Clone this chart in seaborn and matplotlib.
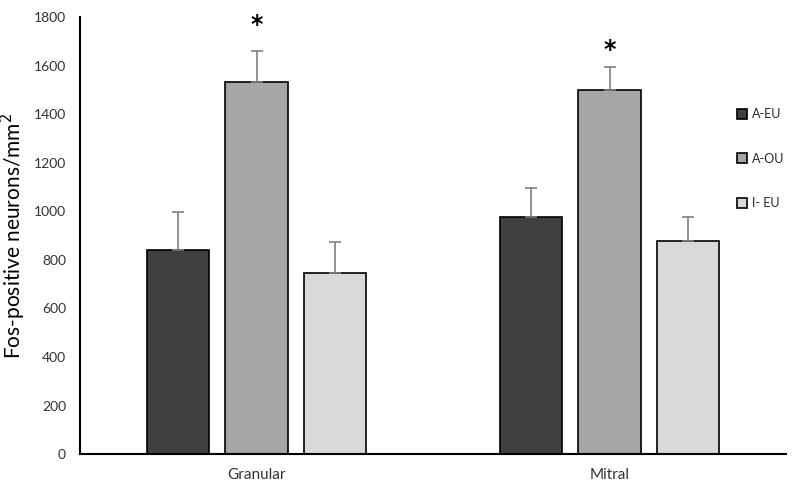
import seaborn as sns
import matplotlib.pyplot as plt
import pandas as pd
from matplotlib.patches import Patch

# values
regions = ["Granular", "Mitral"]
groups = ["A-EU", "A-OU", "I- EU"]
means_granular = [840, 1532, 746]
means_mitral = [976, 1499, 877]
sem_granular = [157, 128, 127]
sem_mitral = [120, 95, 99]
star_heights = [1765, 1665]  # where the * marks sit (A-OU bars)
colors = ["#404040", "#a6a6a6", "#d9d9d9"]

df = pd.DataFrame({
    "region": [r for r in regions for _ in groups],
    "group": groups * 2,
    "value": means_granular + means_mitral,
    "err": sem_granular + sem_mitral,
})

sns.set_style("white")
plt.rcParams['font.family'] = ['Lato', 'DejaVu Sans']

fig = plt.figure(figsize=(8, 4.98), dpi=100)
ax = fig.add_axes([0.1, 0.088, 0.8825, 0.878])

sns.barplot(data=df, x="region", y="value", hue="group", hue_order=groups,
            palette=colors, width=0.666, gap=0.2, edgecolor="black",
            linewidth=1.2, errorbar=None, legend=False, ax=ax)

# upward-only error bars and significance stars
for i, g in enumerate(groups):
    cont = ax.containers[i]
    for j, bar in enumerate(cont):
        x = bar.get_x() + bar.get_width() / 2
        row = df[(df.region == regions[j]) & (df.group == g)].iloc[0]
        ax.errorbar(x, row.value, yerr=[[0], [row.err]], fmt="none",
                    ecolor="#7f7f7f", elinewidth=1.2, capsize=4, capthick=1.2)
        if g == "A-OU":
            ax.text(x, star_heights[j], "*", ha="center", va="center",
                    fontsize=17, fontweight="bold", color="black",
                    family="DejaVu Sans")

ax.set_ylim(0, 1800)
ax.set_yticks(range(0, 1801, 200))
ax.set_xlim(-0.5, 1.5)
ax.set_xlabel("")
ax.set_ylabel("Fos-positive neurons/mm$^2$", fontsize=15, color="black",
              labelpad=4)
ax.tick_params(axis="x", length=0, labelsize=11, colors="#333333", pad=10)
ax.tick_params(axis="y", length=0, labelsize=10, colors="#333333", pad=10)

for s in ["top", "right"]:
    ax.spines[s].set_visible(False)
for s in ["left", "bottom"]:
    ax.spines[s].set_color("black")
    ax.spines[s].set_linewidth(1.5)

handles = [Patch(facecolor=c, edgecolor="black", linewidth=1.2) for c in colors]
ax.legend(handles, groups, loc="upper left", bbox_to_anchor=(0.924, 0.803),
          frameon=False, fontsize=9, handlelength=0.8, handleheight=0.8,
          handletextpad=0.4, labelspacing=2.6, borderaxespad=0)

fig.savefig("out.png", dpi=100)
